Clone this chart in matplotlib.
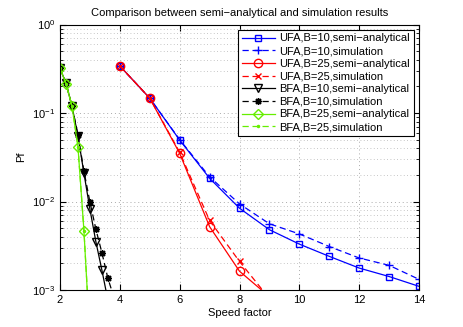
import matplotlib
matplotlib.use("Agg")
import matplotlib.pyplot as plt
from matplotlib.ticker import LogLocator, NullFormatter

plt.rcParams["font.family"] = ["Liberation Sans", "DejaVu Sans"]
plt.rcParams["mathtext.fontset"] = "custom"
plt.rcParams["mathtext.rm"] = "Liberation Sans"

# UFA curves (speed factor 4..14)
ufa_x = [4, 5, 6, 7, 8, 9, 10, 11, 12, 13, 14]
ufa_b10_semi = [0.34, 0.147, 0.0495, 0.0183, 0.0084, 0.0048, 0.0033, 0.0024, 0.00177, 0.00142, 0.0011]
ufa_b10_sim = [0.34, 0.147, 0.050, 0.019, 0.0094, 0.0056, 0.0043, 0.0031, 0.0023, 0.0019, 0.00132]

ufa25_x = [4, 5, 6, 7, 8, 9]
ufa_b25_semi = [0.34, 0.147, 0.035, 0.0052, 0.00163, 0.00084]
ufa_b25_sim = [0.34, 0.147, 0.036, 0.0061, 0.0021, 0.0008]

# BFA curves (speed factor 2..3.8)
bfa10_x = [2.0, 2.2, 2.4, 2.6, 2.8, 3.0, 3.2, 3.4, 3.6]
bfa_b10_semi = [0.32, 0.217, 0.12, 0.055, 0.0209, 0.0082, 0.0035, 0.00168, 0.00077]
bfa10s_x = [2.0, 2.2, 2.4, 2.6, 2.8, 3.0, 3.2, 3.4, 3.6, 3.8]
bfa_b10_sim = [0.32, 0.217, 0.12, 0.057, 0.022, 0.0099, 0.00485, 0.00264, 0.00136, 0.00083]

bfa25_x = [2.0, 2.2, 2.4, 2.6, 2.8, 3.0]
bfa_b25_semi = [0.32, 0.215, 0.12, 0.0416, 0.00468, 0.00028]
bfa_b25_sim = [0.32, 0.215, 0.12, 0.0416, 0.0047, 0.0003]

BLUE = "#0000ff"
RED = "#ff0000"
BLACK = "#000000"
GREEN = "#66ee00"

fig = plt.figure(figsize=(4.63, 3.27), dpi=100)
ax = fig.add_axes([60 / 463, 1 - 290 / 327, 359 / 463, 265.5 / 327])

ms = 5
ax.semilogy(ufa_x, ufa_b10_semi, "-", color=BLUE, marker="s", mfc="none", ms=ms, lw=0.9,
            label="UFA,B=10,semi\u2212analytical")
ax.semilogy(ufa_x, ufa_b10_sim, "--", color=BLUE, marker="+", ms=6, lw=0.9, dashes=(5, 3),
            label="UFA,B=10,simulation")
ax.semilogy(ufa25_x, ufa_b25_semi, "-", color=RED, marker="o", mfc="none", ms=ms + 1, lw=0.9,
            label="UFA,B=25,semi\u2212analytical")
ax.semilogy(ufa25_x, ufa_b25_sim, "--", color=RED, marker="x", ms=4, lw=0.9, dashes=(5, 3),
            label="UFA,B=25,simulation")
ax.semilogy(bfa10_x, bfa_b10_semi, "-", color=BLACK, marker="v", mfc="none", ms=ms + 1, lw=0.9,
            label="BFA,B=10,semi\u2212analytical")
ax.semilogy(bfa10s_x, bfa_b10_sim, "--", color=BLACK, marker=(8, 2, 0), ms=5, lw=0.9, dashes=(5, 3),
            label="BFA,B=10,simulation")
ax.semilogy(bfa25_x, bfa_b25_semi, "-", color=GREEN, marker="D", mfc="none", ms=ms, lw=0.9,
            label="BFA,B=25,semi\u2212analytical")
ax.semilogy(bfa25_x, bfa_b25_sim, "--", color=GREEN, marker=".", ms=3, lw=0.9, dashes=(5, 3),
            label="BFA,B=25,simulation")

ax.set_xlim(2, 14)
ax.set_ylim(1e-3, 1)
ax.set_xticks([2, 4, 6, 8, 10, 12, 14])
ax.yaxis.set_major_locator(LogLocator(base=10, numticks=5))
ax.yaxis.set_minor_locator(LogLocator(base=10, subs=range(2, 10), numticks=20))
ax.yaxis.set_minor_formatter(NullFormatter())

ax.grid(True, which="major", ls=(0, (1, 3)), color="#aaaaaa", lw=0.7)
ax.grid(True, which="minor", axis="y", ls=(0, (1, 3)), color="#b4b4b4", lw=0.6)
ax.tick_params(which="both", direction="in", top=True, right=True, labelsize=8)
ax.tick_params(which="major", length=4)
ax.tick_params(which="minor", length=2)
for s in ax.spines.values():
    s.set_linewidth(0.8)

ax.set_title("Comparison between semi\u2212analytical and simulation results", fontsize=8, pad=6)
ax.set_xlabel("Speed factor", fontsize=8, labelpad=2)
ax.set_ylabel("Pf", fontsize=8, labelpad=4)

leg = ax.legend(loc="upper right", fontsize=8, frameon=True, fancybox=False,
                edgecolor="black", framealpha=1, borderpad=0.35, labelspacing=0.24,
                handlelength=3.0, handletextpad=0.4, borderaxespad=0.45)
leg.get_frame().set_linewidth(0.8)

fig.savefig("out.png", dpi=100)
